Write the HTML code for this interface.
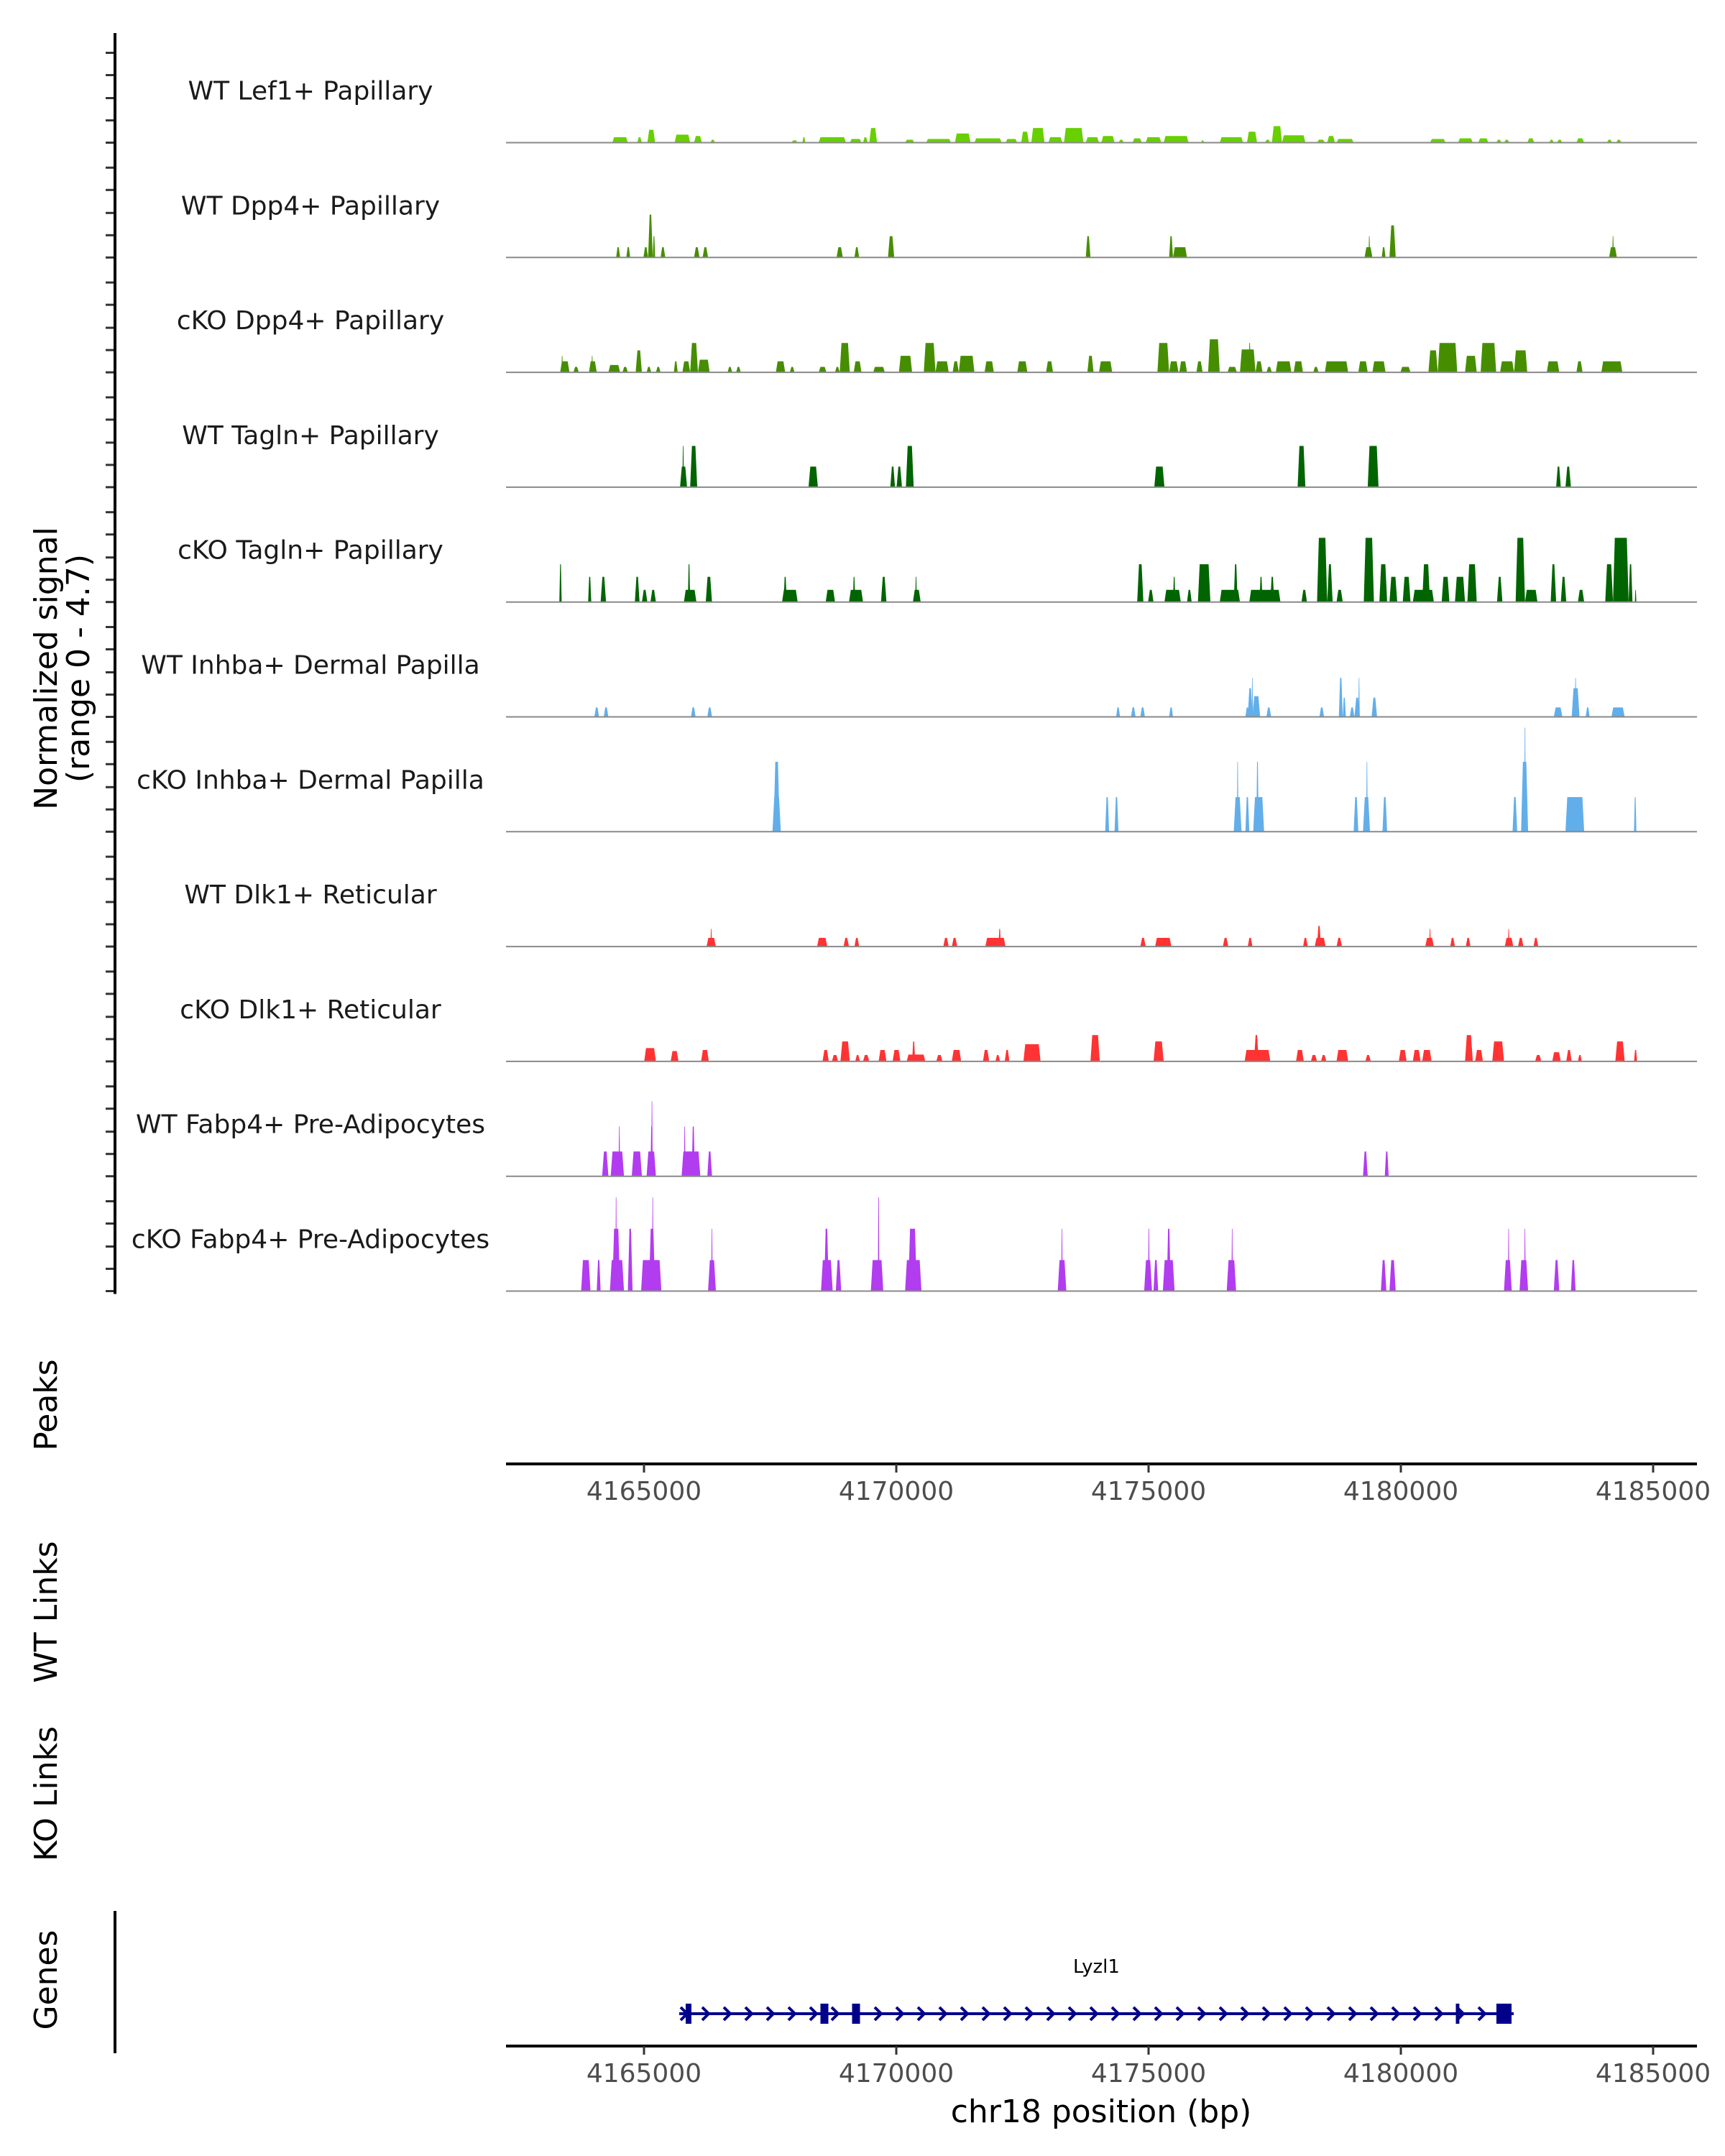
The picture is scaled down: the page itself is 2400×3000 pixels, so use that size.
<!DOCTYPE html>
<html><head><meta charset="utf-8"><title>Coverage plot</title>
<style>
html,body{margin:0;padding:0;background:#fff;}
svg{display:block;font-family:"DejaVu Sans","Liberation Sans",sans-serif;}
</style></head>
<body>
<svg id="chart" xmlns="http://www.w3.org/2000/svg" width="2400" height="3000" viewBox="0 0 2400 3000">
<rect x="0" y="0" width="2400" height="3000" fill="#fff"/>
<g id="tracks"></g>
<g id="axes"></g>
<g id="genes"></g>
</svg>
<script>
// ---- data (bp start, bp end, normalized signal) ----
const trackNames = ["WT Lef1+ Papillary","WT Dpp4+ Papillary","cKO Dpp4+ Papillary","WT Tagln+ Papillary","cKO Tagln+ Papillary","WT Inhba+ Dermal Papilla","cKO Inhba+ Dermal Papilla","WT Dlk1+ Reticular","cKO Dlk1+ Reticular","WT Fabp4+ Pre-Adipocytes","cKO Fabp4+ Pre-Adipocytes"];
const trackColors = ["#68cf00","#468e00","#468e00","#006400","#006400","#62aeea","#62aeea","#ff3333","#ff3333","#b23cef","#b23cef"];
const xTicks = [4165000,4170000,4175000,4180000,4185000];
const xTickLabels = ["4165000","4170000","4175000","4180000","4185000"];
const xDomain = [4162265,4185869];
const yMax = 4.7;

const wtLef1 = [[4164424,4164741,.24],[4164931,4165026,.24],[4165137,4165295,.56],[4165691,4166007,.35],[4166086,4166245,.29],[4166419,4166514,.13],[4168065,4168192,.1],[4168287,4168350,.24],[4168619,4169173,.24],[4169252,4169490,.16],[4169521,4169616,.24],[4169648,4169806,.64],[4170376,4170566,.13],[4170804,4171310,.16],[4171389,4171706,.4],[4171785,4172339,.19],[4172418,4172656,.16],[4172735,4172893,.48],[4172941,4173210,.64],[4173289,4173574,.24],[4173606,4174001,.64],[4174049,4174318,.24],[4174365,4174635,.29],[4174714,4174825,.13],[4174999,4175189,.19],[4175268,4175584,.24],[4175632,4176138,.29],[4176392,4176455,.1],[4176772,4177247,.24],[4177326,4177531,.48],[4177690,4177801,.13],[4177832,4178038,.72],[4178038,4178513,.32],[4178750,4178909,.13],[4178956,4179114,.29],[4179146,4179494,.16],[4181046,4181362,.16],[4181616,4181916,.19],[4182027,4182233,.19],[4182391,4182502,.13],[4182550,4182660,.13],[4183024,4183166,.19],[4183468,4183563,.13],[4183626,4183737,.13],[4184022,4184180,.19],[4184639,4184750,.13],[4184829,4184940,.13]];
const wtDpp4 = [[4164503,4164583,.45],[4164709,4164788,.45],[4165057,4165152,.45],[4165152,4165247,1.87],[4165247,4165295,.93],[4165406,4165501,.45],[4166086,4166197,.45],[4166260,4166371,.45],[4168983,4169110,.45],[4169347,4169442,.45],[4170028,4170155,.93],[4174049,4174144,.93],[4175743,4175822,.93],[4175822,4176107,.45],[4179716,4179875,.45],[4179796,4179828,.93],[4180064,4180143,.45],[4180222,4180349,1.4],[4184687,4184845,.45],[4184750,4184782,.93]];
const ckoDpp4 = [[4163364,4163554,.48],[4163390,4163420,.72],[4163633,4163744,.24],[4163949,4164108,.48],[4164000,4164030,.72],[4164345,4164583,.32],[4164630,4164741,.24],[4164899,4165026,.96],[4165121,4165216,.24],[4165311,4165406,.24],[4165675,4165754,.48],[4165849,4166007,.48],[4166007,4166166,1.28],[4166166,4166403,.55],[4166767,4166862,.24],[4166941,4167036,.24],[4167749,4167939,.48],[4168033,4168128,.24],[4168619,4168778,.24],[4168952,4169047,.24],[4169047,4169252,1.28],[4169331,4169490,.48],[4169727,4169965,.24],[4170250,4170519,.72],[4170756,4170994,1.28],[4170994,4171263,.48],[4171342,4171468,.48],[4171468,4171785,.72],[4171991,4172181,.48],[4172656,4172862,.48],[4173241,4173384,.48],[4174081,4174208,.72],[4174318,4174587,.48],[4175505,4175743,1.28],[4175743,4175933,.48],[4175949,4176107,.48],[4176297,4176424,.48],[4176535,4176772,1.44],[4176930,4177120,.24],[4177183,4177499,1.0],[4177360,4177400,1.28],[4177499,4177642,.48],[4177721,4177832,.24],[4177911,4178228,.48],[4178275,4178465,.48],[4178671,4178782,.24],[4178909,4179383,.48],[4179589,4179780,.48],[4179875,4180143,.48],[4180444,4180650,.24],[4181014,4181204,.96],[4181204,4181600,1.28],[4181758,4181996,.72],[4182075,4182391,1.28],[4182470,4182755,.48],[4182755,4183024,.96],[4183420,4183674,.48],[4184022,4184148,.48],[4184529,4184956,.48]];
const wtTagln = [[4165801,4165944,.9],[4165849,4165880,1.8],[4166007,4166150,1.8],[4168413,4168603,.9],[4170076,4170171,.9],[4170203,4170313,.9],[4170392,4170551,1.8],[4175442,4175648,.9],[4178355,4178513,1.8],[4179780,4180000,1.8],[4183610,4183705,.9],[4183800,4183911,.9]];
const ckoTagln = [[4163348,4163395,1.65],[4163933,4163997,1.1],[4164187,4164297,1.1],[4164883,4164978,1.1],[4165026,4165137,.53],[4165200,4165311,.53],[4165880,4166134,.53],[4165960,4166007,1.65],[4166324,4166451,1.1],[4167875,4168192,.53],[4167907,4167970,1.1],[4168762,4168952,.53],[4169236,4169521,.53],[4169315,4169362,1.1],[4169886,4169997,1.1],[4170535,4170693,.53],[4170582,4170614,1.1],[4175094,4175220,1.65],[4175315,4175426,.53],[4175648,4175980,.53],[4175822,4175870,1.1],[4176107,4176202,.53],[4176328,4176582,1.65],[4176772,4177183,.53],[4177057,4177135,1.65],[4177373,4178006,.53],[4177580,4177642,1.1],[4177800,4177880,1.1],[4178434,4178545,.53],[4178750,4178956,2.8],[4178956,4179067,1.65],[4179146,4179272,.53],[4179700,4179906,2.8],[4180017,4180175,1.65],[4180222,4180380,1.1],[4180492,4180650,1.1],[4180697,4181125,.53],[4180887,4181046,1.65],[4181283,4181441,1.1],[4181553,4181758,1.1],[4181806,4181996,1.65],[4182408,4182518,1.1],[4182787,4182977,2.8],[4182977,4183230,.53],[4183499,4183610,1.65],[4183705,4183816,1.1],[4184053,4184180,.53],[4184608,4184766,1.65],[4184766,4185083,2.8],[4185083,4185162,1.65],[4185210,4185240,.53]];
const wtInhba = [[4164060,4164155,.41],[4164250,4164345,.41],[4166023,4166118,.41],[4166356,4166451,.41],[4174666,4174745,.41],[4174967,4175062,.41],[4175157,4175252,.41],[4175743,4175822,.41],[4177294,4177373,.41],[4177342,4177437,1.25],[4177420,4177437,1.7],[4177437,4177594,.9],[4177721,4177816,.41],[4178798,4178893,.41],[4179193,4179272,1.7],[4179272,4179335,.84],[4179415,4179510,.41],[4179510,4179621,.84],[4179589,4179605,1.7],[4179859,4179970,.84],[4183563,4183737,.41],[4183927,4184085,1.25],[4183990,4184022,1.7],[4184211,4184290,.41],[4184734,4185003,.41]];
const ckoInhba = [[4167680,4167850,1.51],[4167701,4167828,3.05],[4174444,4174523,1.51],[4174634,4174713,1.51],[4177057,4177215,1.51],[4177120,4177152,3.05],[4177294,4177373,1.51],[4177452,4177674,1.51],[4177515,4177563,3.05],[4179494,4179589,1.51],[4179684,4179827,1.51],[4179748,4179780,3.05],[4180080,4180175,1.51],[4182724,4182819,1.51],[4182898,4183040,3.05],[4182961,4182993,4.54],[4183800,4184180,1.51],[4185193,4185241,1.51]];
const wtDlk1 = [[4166340,4166530,.38],[4166419,4166451,.77],[4168587,4168794,.38],[4169125,4169236,.38],[4169347,4169442,.38],[4171152,4171263,.38],[4171326,4171437,.38],[4172007,4172418,.38],[4172275,4172323,.77],[4175157,4175268,.38],[4175458,4175790,.38],[4176835,4176946,.38],[4177342,4177437,.38],[4178466,4178561,.38],[4178703,4178925,.38],[4178750,4178830,.9],[4179146,4179257,.38],[4180950,4181125,.38],[4181030,4181062,.77],[4181457,4181553,.38],[4181774,4181869,.38],[4182566,4182740,.38],[4182630,4182662,.77],[4182835,4182946,.38],[4183151,4183246,.38]];
const ckoDlk1 = [[4165073,4165311,.58],[4165611,4165770,.45],[4166229,4166387,.5],[4168698,4168825,.5],[4168888,4169015,.28],[4169062,4169252,.87],[4169363,4169458,.28],[4169521,4169648,.28],[4169838,4169997,.5],[4170123,4170281,.5],[4170408,4170788,.3],[4170519,4170582,.87],[4171010,4171136,.28],[4171326,4171516,.5],[4171959,4172086,.5],[4172212,4172307,.28],[4172402,4172497,.5],[4172782,4173130,.75],[4174144,4174334,1.15],[4175427,4175632,.87],[4177278,4177800,.5],[4177470,4177563,1.15],[4178323,4178481,.5],[4178624,4178750,.28],[4178830,4178940,.28],[4179146,4179383,.5],[4179732,4179843,.28],[4180412,4180571,.5],[4180697,4180855,.5],[4180887,4181078,.5],[4181758,4181916,1.15],[4181964,4182122,.5],[4182312,4182550,.87],[4183183,4183309,.28],[4183531,4183705,.4],[4183816,4183927,.5],[4184053,4184132,.28],[4184813,4185003,.87],[4185193,4185257,.5]];
const wtFabp4 = [[4164218,4164345,1.08],[4164392,4164662,1.08],[4164551,4164583,2.17],[4164820,4165026,1.08],[4165121,4165311,1.08],[4165200,4165247,2.17],[4165216,4165232,3.27],[4165833,4166213,1.08],[4165880,4165912,2.17],[4166039,4166102,2.17],[4166356,4166451,1.08],[4179684,4179780,1.08],[4180127,4180206,1.08]];
const ckoFabp4 = [[4163791,4163981,1.35],[4164108,4164187,1.35],[4164376,4164662,1.35],[4164424,4164583,2.72],[4164487,4164503,4.09],[4164741,4164836,2.72],[4165010,4165422,1.35],[4165169,4165295,2.72],[4165232,4165248,4.09],[4166371,4166530,1.35],[4166435,4166451,2.72],[4168667,4168904,1.35],[4168730,4168825,2.72],[4168967,4169078,1.35],[4169680,4169933,1.35],[4169822,4169854,4.09],[4170376,4170709,1.35],[4170440,4170614,2.72],[4173479,4173653,1.35],[4173550,4173574,2.72],[4175236,4175395,1.35],[4175315,4175347,2.72],[4175426,4175521,1.35],[4175616,4175854,1.35],[4175695,4175775,2.72],[4176914,4177104,1.35],[4177010,4177025,2.72],[4180048,4180159,1.35],[4180222,4180349,1.35],[4182550,4182708,1.35],[4182630,4182646,2.72],[4182866,4183040,1.35],[4182961,4182977,2.72],[4183563,4183674,1.35],[4183911,4184006,1.35]];
const trackData = [wtLef1,wtDpp4,ckoDpp4,wtTagln,ckoTagln,wtInhba,ckoInhba,wtDlk1,ckoDlk1,wtFabp4,ckoFabp4];

const geneName = "Lyzl1";
const geneSpan = [4165698,4182236];
const geneExons = [[4165826,4165940],[4168497,4168654],[4169124,4169281],[4181090,4181160],[4181894,4182194]];

// ---- layout ----
const NS = "http://www.w3.org/2000/svg";
const plotL = 704, plotR = 2361;
const base0 = 198.5, trackStep = 159.8, pxPerUnit = 31.9;
function xs(bp){ return plotL + (bp - xDomain[0]) / (xDomain[1] - xDomain[0]) * (plotR - plotL); }
// peak coordinates were read with a slightly different horizontal scale; correct here
function xp(bp){ return 0.975 * xs(bp) + 17.7; }
function ys(i, v){ return base0 + trackStep * i - v * pxPerUnit; }
function mk(tag, attrs, parent){
  const e = document.createElementNS(NS, tag);
  for (const k in attrs) e.setAttribute(k, attrs[k]);
  parent.appendChild(e); return e;
}
const gT = document.getElementById('tracks');
const gA = document.getElementById('axes');
const gG = document.getElementById('genes');

trackData.forEach((arr, i) => {
  const g = mk('g', {}, gT);
  
  
  const b = ys(i, 0);
  const lab = mk('text', {x: 432, y: b - 60, 'font-size': 36, fill: '#1a1a1a', 'text-anchor': 'middle'}, g);
  lab.textContent = trackNames[i];
  
  
  arr.forEach(p => {
    let x0 = xp(p[0]), x1 = xp(p[1]);
    if (x1 - x0 < 2) x1 = x0 + 2;
    const s = Math.min(2.5, (x1 - x0) / 3);
    const yt = ys(i, Math.min(p[2], yMax));
    const poly = mk('polygon', {points: `${x0},${b} ${x0+s},${yt} ${x1-s},${yt} ${x1},${b}`, fill: trackColors[i]}, g);
    
    
  });
  const bl = mk('line', {x1: plotL, x2: plotR, y1: b, y2: b, stroke: '#8a8a8a', 'stroke-width': 2}, g);
  
  
  [125, 94, 62, 31, 0].forEach(o => {
    const t = mk('line', {x1: 147, x2: 160, y1: b - o, y2: b - o, stroke: '#333', 'stroke-width': 3}, gA);
    
    
  });
});

// left signal axis
const ya = mk('line', {x1: 160, x2: 160, y1: 46, y2: ys(10,0) + 4, stroke: '#000', 'stroke-width': 4}, gA);


const yt1 = mk('text', {x: 0, y: 0, 'font-size': 44, fill: '#000', 'text-anchor': 'middle', transform: 'translate(79,930) rotate(-90)'}, gA);
yt1.textContent = 'Normalized signal';


const yt2 = mk('text', {x: 0, y: 0, 'font-size': 44, fill: '#000', 'text-anchor': 'middle', transform: 'translate(124,930) rotate(-90)'}, gA);
yt2.textContent = '(range 0 - 4.7)';



// side titles
[['Peaks',1955,'peaks-title'],['WT Links',2243,'wt-links-title'],['KO Links',2496,'ko-links-title'],['Genes',2755,'genes-title']].forEach(t => {
  const e = mk('text', {x: 0, y: 0, 'font-size': 44, fill: '#000', 'text-anchor': 'middle', transform: `translate(79,${t[1]}) rotate(-90)`}, gA);
  e.textContent = t[0];
  
  
});

// x axes
function xAxis(y, name){
  const g = mk('g', {}, gA);
  
  
  mk('line', {x1: plotL, x2: plotR, y1: y, y2: y, stroke: '#000', 'stroke-width': 4}, g);
  xTicks.forEach((v, k) => {
    const x = xs(v);
    const tk = mk('line', {x1: x, x2: x, y1: y, y2: y + 12, stroke: '#333', 'stroke-width': 3}, g);
    
    
    const tl = mk('text', {x: x, y: y + 50, 'font-size': 36, fill: '#4d4d4d', 'text-anchor': 'middle'}, g);
    tl.textContent = xTickLabels[k];
    
    
  });
}
xAxis(2037, 'peaks-x-axis');
xAxis(2847, 'genes-x-axis');
const xt = mk('text', {x: 1532, y: 2953, 'font-size': 44, fill: '#000', 'text-anchor': 'middle'}, gA);
xt.textContent = 'chr18 position (bp)';


const ga = mk('line', {x1: 160, x2: 160, y1: 2659, y2: 2857, stroke: '#000', 'stroke-width': 4}, gA);



// gene model
const gy = 2802;
const gx0 = xs(geneSpan[0]), gx1 = xs(geneSpan[1]);
const gl = mk('line', {x1: gx0, x2: gx1, y1: gy, y2: gy, stroke: '#00008b', 'stroke-width': 4}, gG);


for (let x = gx0 + 2; x < gx1 - 6; x += 30) {
  const c = mk('polyline', {points: `${x},${gy-9} ${x+9},${gy} ${x},${gy+9}`, fill: 'none', stroke: '#00008b', 'stroke-width': 4}, gG);
  
  
}
geneExons.forEach(e => {
  const x0 = xs(e[0]), x1 = xs(e[1]);
  const r = mk('rect', {x: x0, y: gy - 14, width: Math.max(4, x1 - x0), height: 28, fill: '#00008b'}, gG);
  
  
});
const gn = mk('text', {x: (gx0 + gx1) / 2, y: 2745, 'font-size': 26, fill: '#000', 'text-anchor': 'middle'}, gG);
gn.textContent = geneName;


</script>
</body></html>
